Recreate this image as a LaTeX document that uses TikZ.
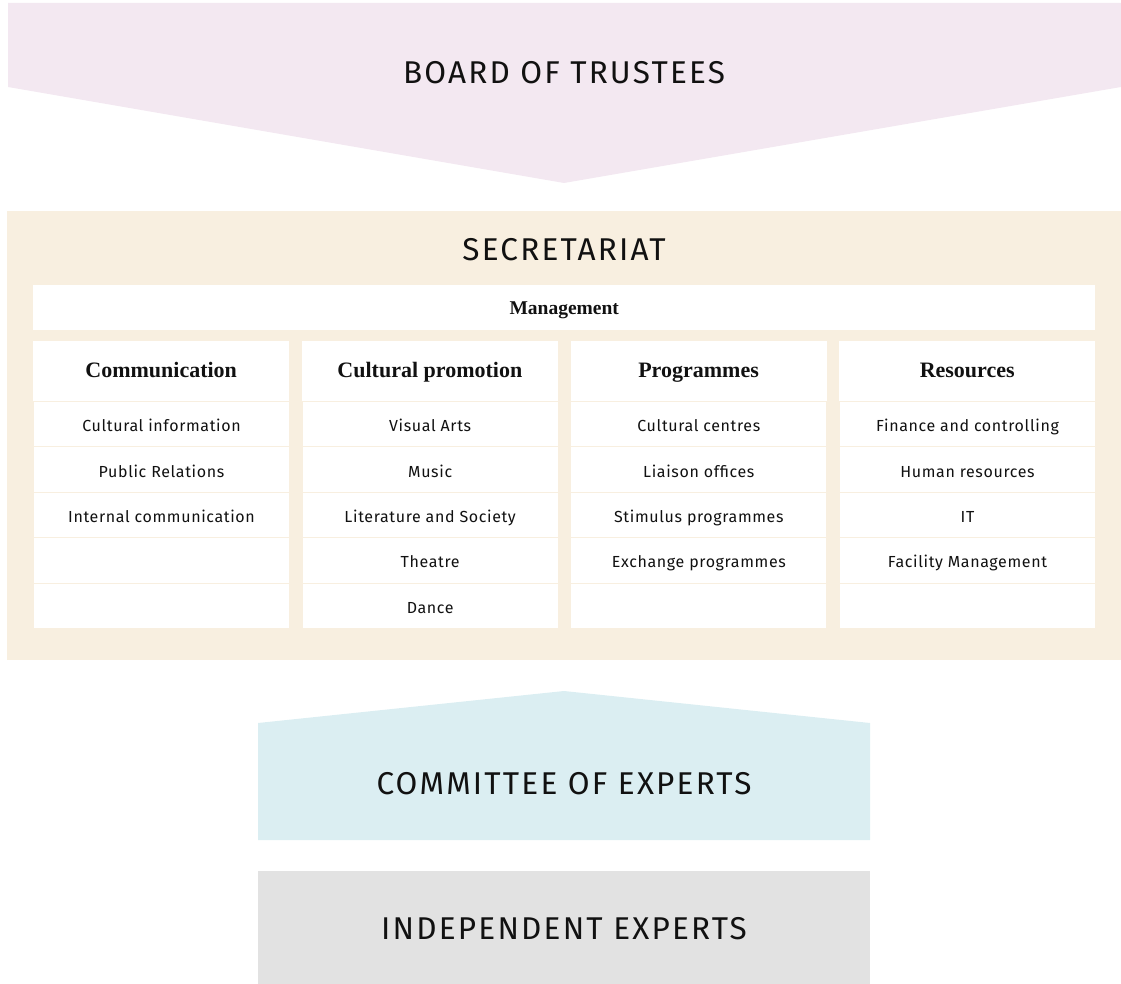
\documentclass[tikz,border=0pt]{standalone}
\usepackage{fontspec}
\setmainfont{Liberation Serif}
\newfontfamily\titlefont[LetterSpace=7]{Fira Sans}
\newfontfamily\itemfont[LetterSpace=4]{Fira Sans}
\definecolor{boardpink}{HTML}{F3E8F1}
\definecolor{secbeige}{HTML}{F8EFE0}
\definecolor{expblue}{HTML}{DBEEF2}
\definecolor{indgrey}{HTML}{E2E2E2}
\definecolor{inktext}{HTML}{111111}
\tikzset{
  title/.style={font=\titlefont\fontsize{31.5}{36}\selectfont, text=inktext, inner sep=0pt,
    text height=21.7pt, text depth=0pt},
  headcell/.style={fill=white, anchor=north west, minimum width=256pt, minimum height=60pt,
    inner sep=0pt, font=\bfseries\fontsize{22}{26}\selectfont, text=inktext,
    text height=16pt, text depth=3.4pt},
  itemcell/.style={fill=white, draw=secbeige, line width=1pt, anchor=north west,
    minimum width=256pt, minimum height=45.4pt, inner sep=0pt,
    font=\itemfont\fontsize{16}{19}\selectfont, text=inktext,
    text height=17pt, text depth=2pt}
}
\begin{document}
\begin{tikzpicture}[x=1pt,y=-1pt]
                \useasboundingbox (0,0) rectangle (1121,984);
                % board of trustees
                \fill[boardpink] (8,3) -- (1121,3) -- (1121,87) -- (564,183) -- (8,87) -- cycle;
                \node[title] (board) at (564,73) {BOARD OF TRUSTEES};
                % secretariat
                \fill[secbeige] (7,211) rectangle (1121,660);
                \node[title] (sec) at (564,250) {SECRETARIAT};
                \node[fill=white, anchor=north west, minimum width=1062pt, minimum height=45pt,
                  inner sep=0pt, font=\bfseries\fontsize{19.5}{23}\selectfont, text=inktext,
                  text height=15pt, text depth=2pt]
                  (mgmt) at (33,285) {Management};
                \foreach \c/\head/\items in {
                    0/Communication/{Cultural information,Public Relations,Internal communication,{},{}},
                    1/Cultural promotion/{Visual Arts,Music,Literature and Society,Theatre,Dance},
                    2/Programmes/{Cultural centres,Liaison offices,Stimulus programmes,Exchange programmes,{}},
                    3/Resources/{Finance and controlling,Human resources,IT,Facility Management,{}}}{
                  \node[headcell] (head\c) at (33+268.67*\c,341) {\head};
                  \foreach \txt [count=\r] in \items
                    \node[itemcell] (cell\c-\r) at (33+268.67*\c,401+45.4*\r-45.4) {\txt};
                }
                % committee of experts
                \fill[expblue] (258,723) -- (564,691) -- (870,723) -- (870,840) -- (258,840) -- cycle;
                \node[title] (committee) at (564,784) {COMMITTEE OF EXPERTS};
                % independent experts
                \fill[indgrey] (258,871) rectangle (870,984);
                \node[title] (indep) at (564,929) {INDEPENDENT EXPERTS};
            \end{tikzpicture}
\end{document}
